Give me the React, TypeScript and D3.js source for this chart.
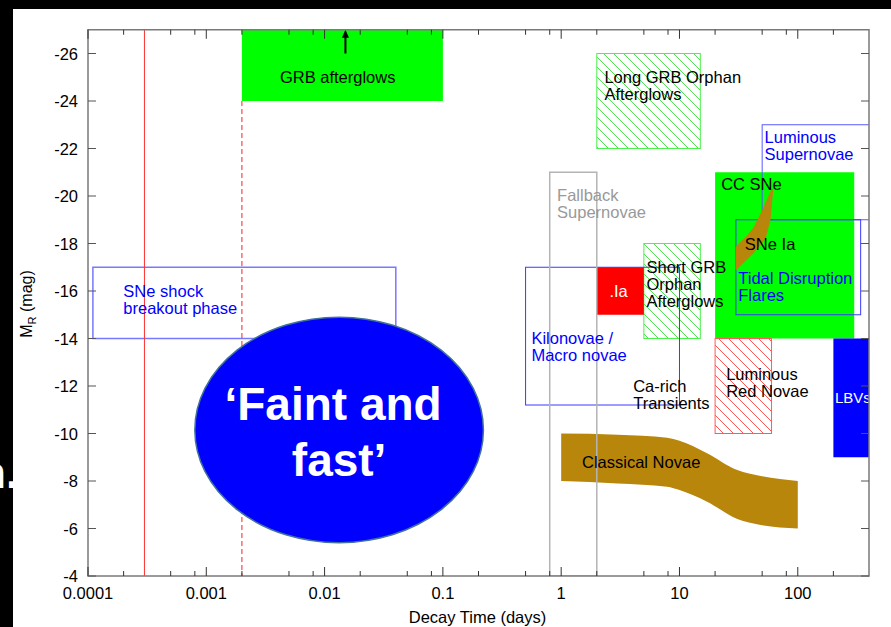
import React from "react";
import * as d3 from "d3";

const W = 891;
const H = 627;
const FONT = "'Liberation Sans', Arial, Helvetica, sans-serif";

// axis domain / ticks
const dayDomain = [1e-4, 400];
const magDomain = [-27, -4];
const xMajorTicks = [0.0001, 0.001, 0.01, 0.1, 1, 10, 100];
const xTickLabels = ["0.0001", "0.001", "0.01", "0.1", "1", "10", "100"];
const xMinorMultipliers = [2, 5, 8];
const yTicks = [-26, -24, -22, -20, -18, -16, -14, -12, -10, -8, -6, -4];

// filled / hatched / outlined regions: [dayMin, dayMax, magBright, magFaint]
const regionNames = [
  "GRB afterglows",
  "CC SNe",
  "Long GRB Orphan",
  "Short GRB Orphan",
  "Luminous Red Novae",
  ".Ia",
  "LBVs",
  "Luminous Supernovae",
  "Tidal Disruption Flares",
  "Kilonovae",
  "Fallback Supernovae",
  "SNe shock breakout",
];
const regionDayMin = [0.002, 20, 2, 5, 20, 2, 200, 50, 30, 0.5, 0.8, 1.1e-4];
const regionDayMax = [0.1, 300, 15, 15, 60, 5, 400, 2000, 340, 10, 2, 0.04];
const regionMagBright = [-27, -21, -26, -18, -14, -17, -14, -23, -19, -17, -21, -17];
const regionMagFaint = [-24, -14, -22, -14, -10, -15, -9, -19, -15, -11.2, -4, -14];

// classical novae band
const novaeDays = [1, 3, 7.87, 10, 17.1, 30.8, 48.5, 100];
const novaeBright = [-10, -9.95, -9.82, -9.7, -9.17, -8.46, -8.21, -8.0];
const novaeFaint = [-8, -7.9, -7.76, -7.62, -7.13, -6.4, -6.15, -6.0];
// SNe Ia band outline
const snIaDays = [60, 50, 42.5, 37.4, 29.8, 29.8, 42.5, 53.4, 58.9, 62.1];
const snIaMags = [-20.3, -19.4, -18.7, -18.35, -17.85, -16.85, -17.6, -18.2, -19.0, -20.3];

// ellipse "Faint and fast": [dayMin, dayMax], [magBright, magFaint]
const faintDays = [8e-4, 0.22];
const faintMags = [-14.9, -5.4];

// vertical markers
const redLineDay = 3e-4;
const dashedLineDay = 0.002;
const arrowDay = 0.015;
const arrowMags = [-26, -27];

// labels: lines, anchor day, anchor mag (first baseline)
const labelLines = [
  ["GRB afterglows"],
  ["Long GRB Orphan", "Afterglows"],
  ["Luminous", "Supernovae"],
  ["CC SNe"],
  ["SNe Ia"],
  ["Tidal Disruption", "Flares"],
  ["Fallback", "Supernovae"],
  ["Short GRB", "Orphan", "Afterglows"],
  [".Ia"],
  ["Kilonovae /", "Macro novae"],
  ["Ca-rich", "Transients"],
  ["Luminous", "Red Novae"],
  ["LBVs"],
  ["Classical Novae"],
  ["SNe shock", "breakout phase"],
];
const labelDays = [0.0129, 2.32, 52.4, 22.5, 35.7, 31.4, 0.923, 5.26, 3.06, 0.56, 4.06, 24.8, 206, 1.5, 1.99e-4];
const labelMags = [-24.76, -24.76, -22.23, -20.25, -17.73, -16.28, -19.79, -16.77, -15.76, -13.76, -11.76, -12.25, -11.27, -8.53, -15.76];

const regionStyle: Record<string, any> = {
  "GRB afterglows": { fill: "#00ff00", stroke: "none" },
  "CC SNe": { fill: "#00ff00", stroke: "none" },
  "Long GRB Orphan": { fill: "url(#hatchGreen)", stroke: "#4cf04c", sw: 1 },
  "Short GRB Orphan": { fill: "url(#hatchGreen)", stroke: "#4cf04c", sw: 1 },
  "Luminous Red Novae": { fill: "url(#hatchRed)", stroke: "#ff5a5a", sw: 1 },
  ".Ia": { fill: "#ff0000", stroke: "none" },
  LBVs: { fill: "#0000ff", stroke: "none" },
  "Luminous Supernovae": { fill: "none", stroke: "#5a5aff", sw: 1 },
  "Tidal Disruption Flares": { fill: "none", stroke: "#3a3aff", sw: 1 },
  Kilonovae: { fill: "none", stroke: "#3a3aff", sw: 1 },
  "Fallback Supernovae": { fill: "none", stroke: "#b4b4b4", sw: 1.5 },
  "SNe shock breakout": { fill: "none", stroke: "#7878ff", sw: 1.5 },
};
const labelColors = [
  "#000", "#000", "#0000ff", "#000", "#000", "#0000ff", "#999999", "#000", "#fff",
  "#0000ff", "#000", "#000", "#fff", "#000", "#0000ff",
];
const labelAnchor = ["middle", "start", "start", "start", "start", "start", "start", "start", "middle", "start", "start", "start", "start", "start", "start"];
const labelSizes = [16.5, 16.5, 16.5, 16.5, 16.5, 16.5, 16.5, 16.5, 16.5, 16.5, 16.5, 16.5, 15, 16.5, 16.5];

const L = 88, R = 869, T = 29.75, B = 576;

export default function App() {
  const x = d3.scaleLog().domain(dayDomain).range([L, R]);
  const y = d3.scaleLinear().domain(magDomain).range([T, B]);

  const minorTicks: number[] = [];
  for (let e = -4; e <= 2; e++) {
    for (const m of xMinorMultipliers) {
      const v = m * Math.pow(10, e);
      if (v <= dayDomain[1]) minorTicks.push(v);
    }
  }

  const rect = (i: number) => {
    const x0 = x(regionDayMin[i]);
    const x1 = x(regionDayMax[i]);
    const y0 = y(regionMagBright[i]);
    const y1 = y(regionMagFaint[i]);
    const s = regionStyle[regionNames[i]];
    return (
      <rect key={regionNames[i]} x={x0} y={y0} width={x1 - x0} height={y1 - y0}
        fill={s.fill} stroke={s.stroke} strokeWidth={s.sw || 0} />
    );
  };
  const idx = (n: string) => regionNames.indexOf(n);

  const novaePath = d3.area<number>()
    .x((d) => x(d))
    .y0((d, i) => y(novaeFaint[i]))
    .y1((d, i) => y(novaeBright[i]))
    .curve(d3.curveMonotoneX)(novaeDays) as string;
  const snIaPath = d3.line<number>()
    .x((d, i) => x(snIaDays[i]))
    .y((d, i) => y(snIaMags[i]))(snIaDays) + "Z";

  const ex0 = x(faintDays[0]), ex1 = x(faintDays[1]);
  const ey0 = y(faintMags[0]), ey1 = y(faintMags[1]);
  const ecx = (ex0 + ex1) / 2, ecy = (ey0 + ey1) / 2;

  const ax = x(arrowDay);

  return (
    <svg width={W} height={H} style={{ position: "absolute", left: 0, top: 0, display: "block" }}
      fontFamily={FONT}>
      <defs>
        <pattern id="hatchGreen" patternUnits="userSpaceOnUse" width={10} height={10}>
          <path d="M0,0 L10,10 M-2,8 L2,12 M8,-2 L12,2" stroke="#3ee03e" strokeWidth={0.9} fill="none" />
        </pattern>
        <pattern id="hatchRed" patternUnits="userSpaceOnUse" width={10} height={10}>
          <path d="M0,0 L10,10 M-2,8 L2,12 M8,-2 L12,2" stroke="#ff4040" strokeWidth={0.9} fill="none" />
        </pattern>
        <clipPath id="plotClip">
          <rect x={L} y={T} width={R - L} height={B - T} />
        </clipPath>
      </defs>
      <rect x={0} y={0} width={W} height={H} fill="#000" />
      <rect x={13} y={9} width={W - 13} height={H - 9} fill="#fff" />
      <text x={-21} y={488} fontSize={44} fontWeight="bold" fill="#fff">n.</text>

      <g clipPath="url(#plotClip)">
        {rect(idx("GRB afterglows"))}
        {rect(idx("CC SNe"))}
        {rect(idx("Long GRB Orphan"))}
        {rect(idx("Short GRB Orphan"))}
        {rect(idx("Luminous Red Novae"))}
        {rect(idx(".Ia"))}
        {rect(idx("LBVs"))}
        {rect(idx("Luminous Supernovae"))}
        {rect(idx("Tidal Disruption Flares"))}
        <path d={novaePath} fill="#b8860b" />
        <path d={snIaPath} fill="#b8860b" />
        {rect(idx("Kilonovae"))}
        {rect(idx("Fallback Supernovae"))}
        {rect(idx("SNe shock breakout"))}
        <line x1={x(redLineDay)} x2={x(redLineDay)} y1={T} y2={B} stroke="#ff3030" strokeWidth={1} />
        <line x1={x(dashedLineDay)} x2={x(dashedLineDay)} y1={y(regionMagFaint[0])} y2={B}
          stroke="#ff2020" strokeWidth={1} strokeDasharray="5,3" />
        <ellipse cx={ecx} cy={ecy} rx={(ex1 - ex0) / 2} ry={(ey1 - ey0) / 2}
          fill="#0000ff" stroke="#41719c" strokeWidth={1.5} />
        <line x1={ax} x2={ax} y1={y(arrowMags[0])} y2={y(arrowMags[1]) + 7} stroke="#000" strokeWidth={2} />
        <path d={`M${ax - 3.5},${y(arrowMags[1]) + 8} L${ax},${y(arrowMags[1])} L${ax + 3.5},${y(arrowMags[1]) + 8}Z`} fill="#000" />

        {labelLines.map((lines, i) => (
          <text key={i} x={x(labelDays[i])} y={y(labelMags[i])} fill={labelColors[i]}
            fontSize={labelSizes[i]} textAnchor={labelAnchor[i] as any}>
            {lines.map((ln, j) => (
              <tspan key={j} x={x(labelDays[i])} dy={j === 0 ? 0 : 17}>{ln}</tspan>
            ))}
          </text>
        ))}
        <text x={ecx - 6} y={ecy - 10} fill="#fff" fontSize={46} fontWeight="bold" textAnchor="middle">‘Faint and</text>
        <text x={ecx} y={ecy + 46} fill="#fff" fontSize={46} fontWeight="bold" textAnchor="middle">fast’</text>
      </g>

      {/* frame */}
      <rect x={L} y={T} width={R - L} height={B - T} fill="none" stroke="#7a7a7a" strokeWidth={1.5} />
      {/* x ticks */}
      {xMajorTicks.map((t) => (
        <g key={"xm" + t}>
          <line x1={x(t)} x2={x(t)} y1={B} y2={B - 9} stroke="#333" />
          <line x1={x(t)} x2={x(t)} y1={T} y2={T + 9} stroke="#333" />
        </g>
      ))}
      {minorTicks.map((t) => (
        <g key={"xn" + t}>
          <line x1={x(t)} x2={x(t)} y1={B} y2={B - 5} stroke="#333" />
          <line x1={x(t)} x2={x(t)} y1={T} y2={T + 5} stroke="#333" />
        </g>
      ))}
      {xMajorTicks.map((t, i) => (
        <text key={"xl" + t} x={x(t)} y={599} fontSize={16.5} textAnchor="middle" fill="#000">{xTickLabels[i]}</text>
      ))}
      {yTicks.map((t) => (
        <g key={"y" + t}>
          <line x1={L} x2={L + 8} y1={y(t)} y2={y(t)} stroke="#555" />
          <line x1={R} x2={R - 8} y1={y(t)} y2={y(t)} stroke="#555" />
          <text x={78} y={y(t) + 6} fontSize={16.5} textAnchor="end" fill="#000">{t}</text>
        </g>
      ))}
      <text x={477.5} y={623} fontSize={16.5} textAnchor="middle" fill="#000">Decay Time (days)</text>
      <text transform="translate(32,304) rotate(-90)" fontSize={16} textAnchor="middle" fill="#000">
        M<tspan fontSize={11} dy={4}>R</tspan><tspan dy={-4}> (mag)</tspan>
      </text>
    </svg>
  );
}
